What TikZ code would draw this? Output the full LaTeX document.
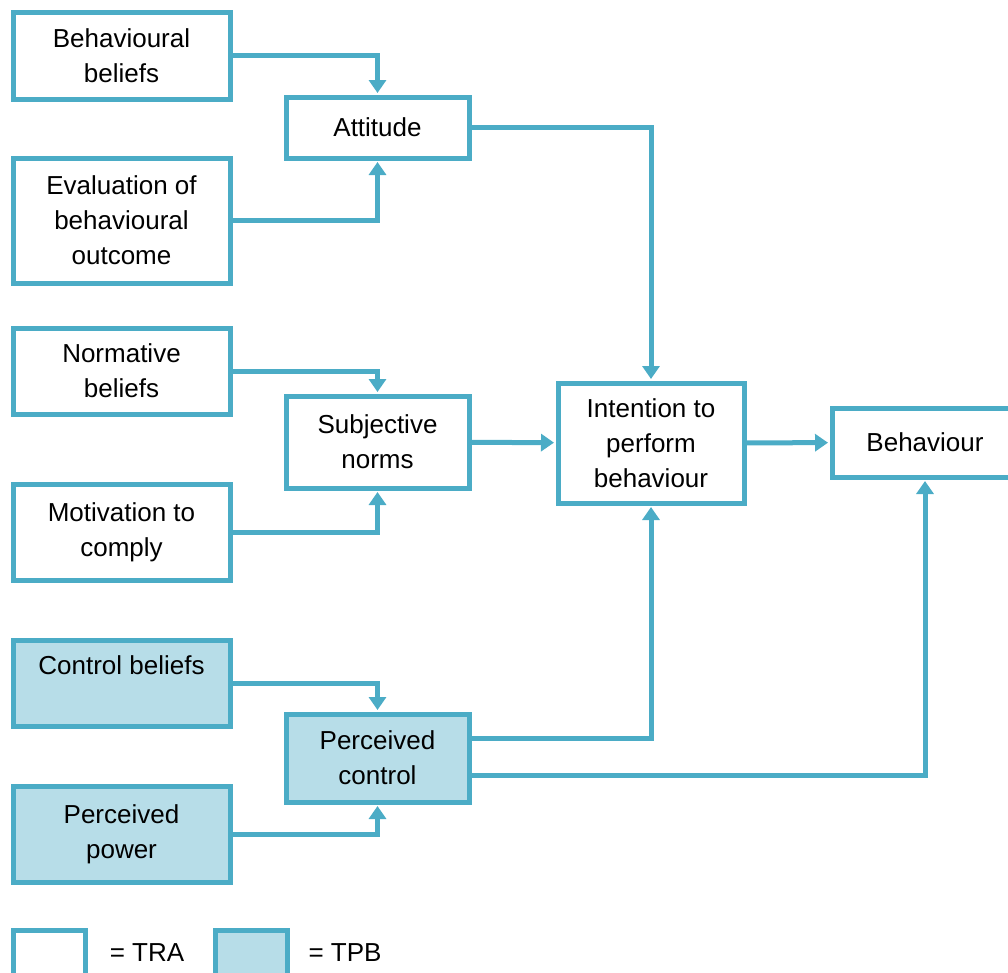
\documentclass[tikz,border=0pt]{standalone}
\usepackage{fontspec}
\setmainfont{Liberation Sans}
\usetikzlibrary{arrows.meta}
\definecolor{tpbline}{HTML}{4BACC6}
\definecolor{tpbfill}{HTML}{B7DDE8}

\begin{document}
\begin{tikzpicture}[x=1pt, y=-1pt,
  every node/.style={font=\fontsize{26}{35}\selectfont, align=center},
  box/.style={draw=tpbline, line width=5pt, rectangle, inner sep=0pt, fill=white},
  leftbox/.style={box, minimum width=217pt},
  midbox/.style={box, minimum width=183pt},
  ctrl/.style={fill=tpbfill},
  link/.style={draw=tpbline, line width=5pt, shorten >=1.5pt, -{Triangle[length=13pt,width=17pt]}}]
  \useasboundingbox (0,0) rectangle (1008,972);
  % beliefs (left column)
  \node[leftbox, minimum height=87pt] (bb) at (121.5,55.5) {Behavioural\\beliefs};
  \node[leftbox, minimum height=125pt] (eval) at (121.5,220.5) {Evaluation of\\behavioural\\outcome};
  \node[leftbox, minimum height=86pt] (norm) at (121.5,371) {Normative\\beliefs};
  \node[leftbox, minimum height=96pt] (mot) at (121.5,532) {Motivation to\\comply};
  \node[leftbox, ctrl, minimum height=86pt] (cb) at (121.5,683) {Control beliefs\\\mbox{}};
  \node[leftbox, ctrl, minimum height=96pt] (pp) at (121.5,834) {Perceived\\power};
  % middle column
  \node[midbox, minimum height=61pt] (att) at (377.5,127.5) {Attitude};
  \node[midbox, minimum height=92pt] (sn) at (377.5,442) {Subjective\\norms};
  \node[midbox, ctrl, minimum height=88pt] (pc) at (377.5,758) {Perceived\\control};
  % intention and behaviour
  \node[box, minimum width=186pt, minimum height=120pt] (int) at (651,443) {Intention to\\perform\\behaviour};
  \node[box, minimum width=186pt, minimum height=69pt] (beh) at (925,442.5) {Behaviour};
  % connectors
  \draw[link] (bb.east) -| (att.north);
  \draw[link] (eval.east) -| (att.south);
  \draw[link] (norm.east) -| (sn.north);
  \draw[link] (mot.east) -| (sn.south);
  \draw[link] (cb.east) -| (pc.north);
  \draw[link] (pp.east) -| (pc.south);
  \draw[link] (att.east) -| (int.north);
  \draw[link] (sn) -- (int);
  \draw[link] (int) -- (beh);
  \draw[link] ([yshift=20pt]pc.east) -| (int.south);
  \draw[link] ([yshift=-17pt]pc.east) -| (beh.south);
  % legend
  \node[box, minimum width=72pt, minimum height=50pt] (tra) at (49,955) {};
  \node (tratext) at (147,953) {= TRA};
  \node[box, ctrl, minimum width=72pt, minimum height=50pt] (tpb) at (251,955) {};
  \node (tpbtext) at (345,953) {= TPB};
\end{tikzpicture}
\end{document}
